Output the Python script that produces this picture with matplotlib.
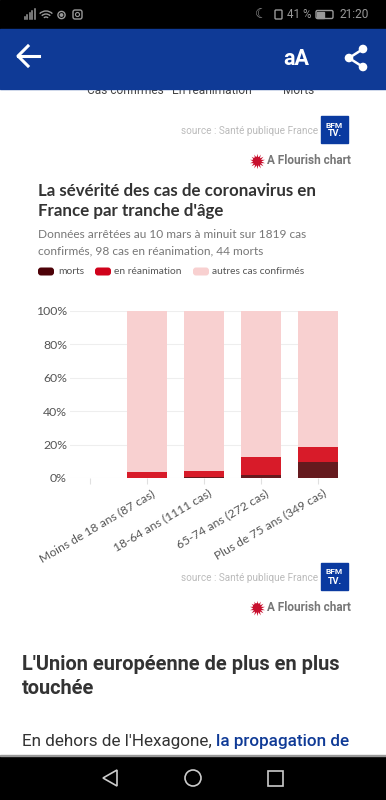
import matplotlib
matplotlib.use('Agg')
import matplotlib.pyplot as plt
from matplotlib.patches import Rectangle, FancyBboxPatch, Circle, Polygon, Arc
from matplotlib.transforms import ScaledTranslation

# valeurs (%)
categories = ['', 'Moins de 18 ans (87 cas)', '18-64 ans (1111 cas)', '65-74 ans (272 cas)', 'Plus de 75 ans (349 cas)']
morts = [0, 0, 0.3, 1.8, 9.7]
reanimation = [0, 3.6, 3.8, 11.0, 8.6]
autres = [0, 96.4, 95.9, 87.2, 81.7]
y_ticks = [0, 20, 40, 60, 80, 100]
y_labels = ['0%', '20%', '40%', '60%', '80%', '100%']
legend_labels = ['morts', 'en réanimation', 'autres cas confirmés']

col_morts = '#651a1e'
col_rea = '#d81b29'
col_autres = '#f8d0d0'
col_blue = '#0f3a96'

plt.rcParams['font.family'] = ['Lato', 'DejaVu Sans']

fig = plt.figure(figsize=(3.86, 8), dpi=100, facecolor='white')

# page entiere, en pixels
page = fig.add_axes([0, 0, 1, 1])
page.set_xlim(0, 386)
page.set_ylim(800, 0)
page.axis('off')

# texte coupe sous la barre bleue
page.text(125.5, 90, 'Cas confirmés', ha='center', va='center', fontsize=8.6, color='#444444', family='Roboto')
page.text(212, 90, 'En réanimation', ha='center', va='center', fontsize=8.6, color='#444444', family='Roboto')
page.text(298.5, 90, 'Morts', ha='center', va='center', fontsize=8.6, color='#444444', family='Roboto')

# barres du telephone
page.add_patch(Rectangle((0, 0), 386, 29, color='black', zorder=3))
page.add_patch(Rectangle((0, 29), 386, 60, color=col_blue, zorder=3))
page.add_patch(Rectangle((0, 756), 386, 44, color='black', zorder=3))
page.add_patch(Rectangle((0, 755), 386, 1.2, color='#999999', zorder=3))

# barre d'etat
for bx, bh in zip([24.5, 27, 29.5, 32, 34.5], [2, 4, 6, 8, 10]):
    page.plot([bx, bx], [19, 19 - bh], color='#999999', lw=1.1, zorder=4)
for r in [4, 8, 12]:
    page.add_patch(Arc((46, 20), r * 1.5, r * 1.5, theta1=225, theta2=315, ec='#999999', lw=1, zorder=4))
page.add_patch(Circle((61.5, 15), 3.6, fill=False, ec='#999999', lw=1, zorder=4))
page.add_patch(Circle((61.5, 15), 1.2, color='#999999', zorder=4))
page.add_patch(FancyBboxPatch((73, 10), 9, 9, boxstyle='round,pad=0,rounding_size=2', fill=False, ec='#999999', lw=1, zorder=4))
page.add_patch(Circle((77.5, 14.5), 2, fill=False, ec='#999999', lw=0.8, zorder=4))
page.text(261, 14.5, '☾', color='#999999', fontsize=10, ha='center', va='center', zorder=4, family='DejaVu Sans')
page.add_patch(FancyBboxPatch((275, 10), 7, 9, boxstyle='round,pad=0,rounding_size=1', fill=False, ec='#999999', lw=1, zorder=4))
page.text(287, 14.5, '41 %', color='#999999', fontsize=8.4, va='center', zorder=4, family='Roboto')
page.add_patch(FancyBboxPatch((316, 10.5), 17, 8, boxstyle='round,pad=0,rounding_size=1.5', fill=False, ec='#999999', lw=1, zorder=4))
page.add_patch(Rectangle((317, 11.5), 7, 6, color='#999999', zorder=4))
page.text(340, 14.5, '21:20', color='#999999', fontsize=8.6, va='center', zorder=4, family='Roboto')

# barre bleue : retour, aA, partage
page.plot([18, 39], [56, 56], color='white', lw=2.2, zorder=4)
page.plot([28, 18, 28], [46, 56, 66], color='white', lw=2.2, zorder=4)
page.text(296, 59, 'aA', color='white', fontsize=15.5, fontweight='bold', ha='center', va='center', zorder=4, family='Roboto')
page.plot([363, 349, 363], [49, 58, 67], color='white', lw=1.8, zorder=4)
for sx, sy in [(363, 49), (349, 58), (363, 67)]:
    page.add_patch(Circle((sx, sy), 3.6, color='white', zorder=5))

# barre de navigation
page.add_patch(Polygon([(117, 770), (103, 778), (117, 786)], closed=True, fill=False, ec='#cccccc', lw=1.2, zorder=4))
page.add_patch(Circle((193, 778), 8, fill=False, ec='#cccccc', lw=1.2, zorder=4))
page.add_patch(Rectangle((267.5, 770.5), 15, 15, fill=False, ec='#cccccc', lw=1.2, zorder=4))


def logo(x, y):
    page.add_patch(Rectangle((x, y), 27, 27, color='#0a3aa0', zorder=2))
    page.text(x + 13.5, y + 9, 'BFM', color='white', fontsize=6, fontweight='bold', ha='center', va='center', zorder=3, family='Roboto')
    page.text(x + 13.5, y + 18, 'TV.', color='white', fontsize=6.6, fontweight='bold', ha='center', va='center', zorder=3, family='Roboto')


def credit(y):
    page.text(351, y, 'A Flourish chart', color='#777777', fontsize=8.5, fontweight='bold', ha='right', va='center', family='Roboto')
    page.plot([257], [y], marker=(14, 1, 0), ms=11, color='#c8102e', mew=0)
    page.add_patch(Circle((257, y), 3.6, color='#c8102e'))


logo(321, 116)
page.text(318, 131.5, 'source : Santé publique France', color='#bbbbbb', fontsize=7.2, ha='right', va='center', family='Roboto')
credit(161)
logo(321, 563)
page.text(318, 578, 'source : Santé publique France', color='#bbbbbb', fontsize=7.2, ha='right', va='center', family='Roboto')
credit(607.5)

# titre et sous-titre
page.text(38, 191, 'La sévérité des cas de coronavirus en', color='#333333', fontsize=12.2, fontweight='bold', va='center')
page.text(38, 211, "France par tranche d'âge", color='#333333', fontsize=12.2, fontweight='bold', va='center')
page.text(38, 235, 'Données arrêtées au 10 mars à minuit sur 1819 cas', color='#777777', fontsize=8.6, va='center')
page.text(38, 250.5, 'confirmés, 98 cas en réanimation, 44 morts', color='#777777', fontsize=8.6, va='center')

# legende
for lx, col, lab, tx in zip([38, 95, 193], ['#4d0208', '#d0021b', col_autres], legend_labels, [58, 114, 212]):
    page.add_patch(FancyBboxPatch((lx, 267.5), 16, 8, boxstyle='round,pad=0,rounding_size=3', fc=col, ec='none'))
    page.text(tx, 271.5, lab, color='#555555', fontsize=7.35, va='center')

# titre du bas et paragraphe
page.text(22, 665, "L'Union européenne de plus en plus", color='#333333', fontsize=14.4, fontweight='bold', va='center', family='Roboto')
page.text(22, 689, 'touchée', color='#333333', fontsize=14.4, fontweight='bold', va='center', family='Roboto')
page.text(22, 741.5, "En dehors de l'Hexagone,", color='#333333', fontsize=12.3, va='center', family='Roboto')
page.text(216, 741.5, 'la propagation de', color=col_blue, fontsize=12.3, fontweight='medium', va='center', family='Roboto')

# graphique : 0% a y=478, 100% a y=310.5, x de 70 a 338
ax = fig.add_axes([70 / 386, 1 - 478 / 800, (338 - 70) / 386, (478 - 310.5) / 800])
ax.patch.set_alpha(0)
x = list(range(len(categories)))
bottom_rea = morts
bottom_autres = [m + r for m, r in zip(morts, reanimation)]
ax.bar(x, morts, width=0.7, color=col_morts, zorder=3)
ax.bar(x, reanimation, width=0.7, bottom=bottom_rea, color=col_rea, zorder=3)
ax.bar(x, autres, width=0.7, bottom=bottom_autres, color=col_autres, zorder=3)
ax.set_xlim(-0.35, 4.35)
ax.set_ylim(0, 100)
ax.set_yticks(y_ticks)
ax.set_yticklabels(y_labels, fontsize=8.8, color='#555555')
ax.tick_params(axis='y', length=0, pad=2.2)
ax.set_xticks(x)
ax.set_xticklabels(categories, rotation=30.5, ha='right', rotation_mode='anchor', fontsize=8.7, color='#555555')
ax.tick_params(axis='x', length=4, width=0.8, color='#e0e0e0', pad=5)
ax.grid(axis='y', color='#eeeeee', lw=0.8, zorder=0)
for s in ax.spines.values():
    s.set_visible(False)
shift = ScaledTranslation(4 / 100, 3 / 100, fig.dpi_scale_trans)
for lab in ax.get_xticklabels():
    lab.set_transform(lab.get_transform() + shift)

fig.savefig('out.png', dpi=100)
